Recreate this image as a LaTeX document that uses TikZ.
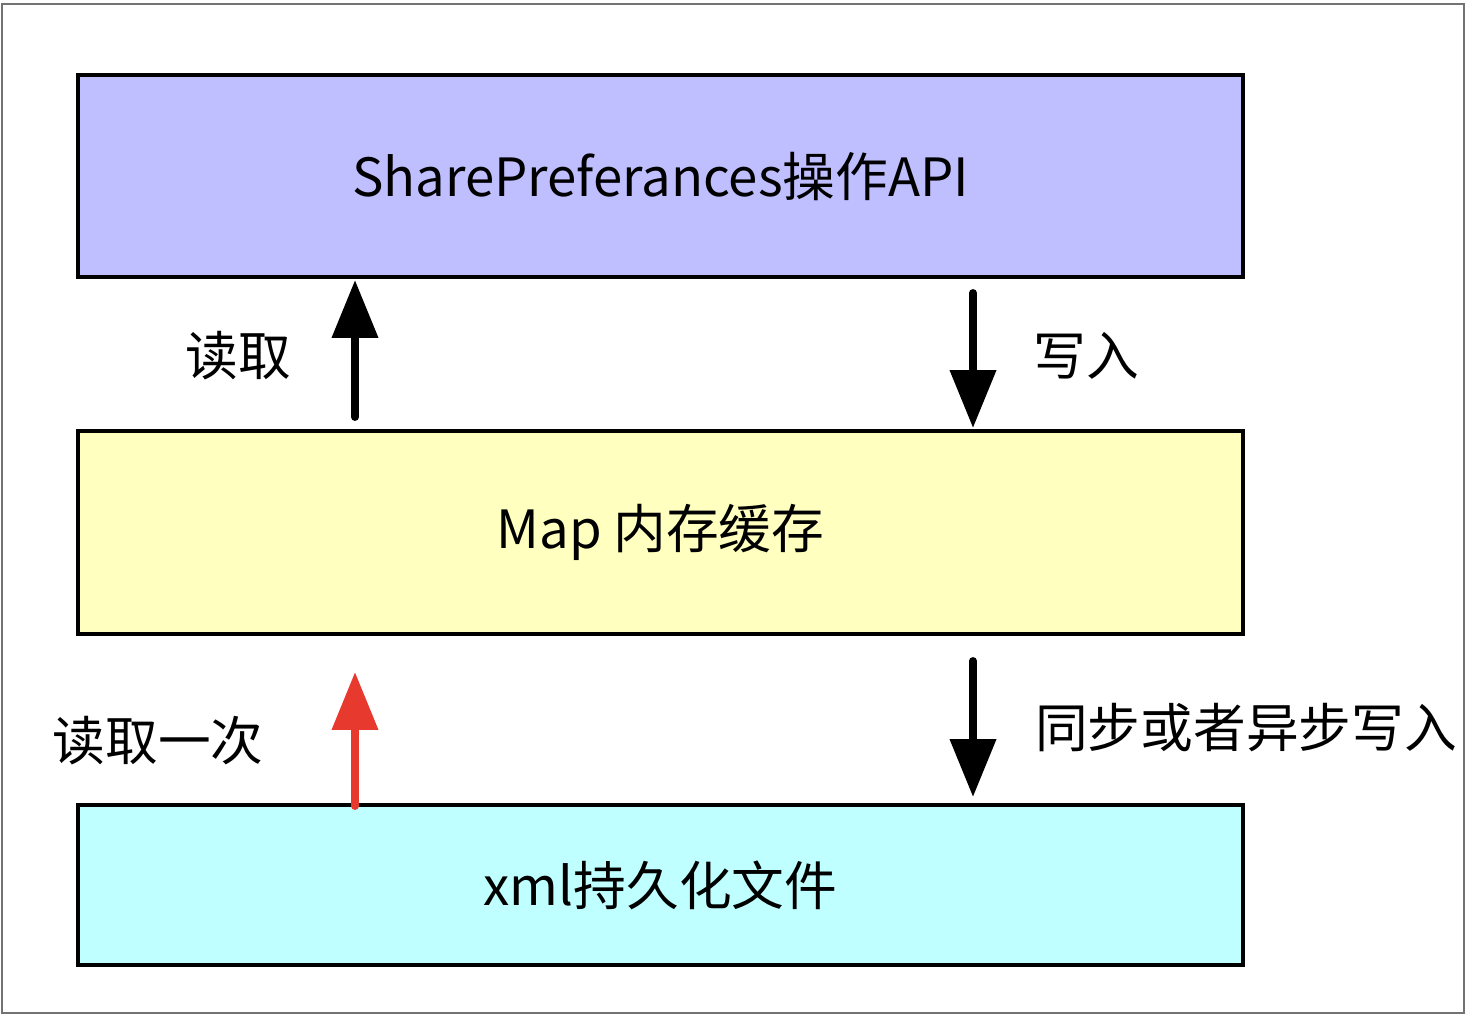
\documentclass[tikz,border=0pt]{standalone}
\usepackage{fontspec}
\setmainfont{Noto Sans CJK SC}
\usetikzlibrary{arrows.meta}
\definecolor{apiblue}{HTML}{BFBFFF}
\definecolor{mapyellow}{HTML}{FFFFBF}
\definecolor{xmlcyan}{HTML}{BFFFFF}
\definecolor{readred}{HTML}{E8392F}
\tikzset{
  layer/.style={draw=black, line width=2pt, minimum width=23.3cm, font=\fontsize{30}{34}\selectfont},
  flow/.style={line width=4.5pt, line cap=round, -{Triangle[length=33pt,width=25.5pt]}},
  tag/.style={font=\fontsize{30}{34}\selectfont}
}
\begin{document}
\begin{tikzpicture}[x=0.02cm,y=-0.02cm]
       \useasboundingbox (0,0) rectangle (1484,1017);
       \draw[color=black!55, line width=1pt] (2,4) rectangle (1464,1013);
       \node [layer, fill=apiblue, minimum height=4.04cm] (api) at (660.5,176) {SharePreferances操作API};
       \node [layer, fill=mapyellow, minimum height=4.06cm] (map) at (660.5,532.5) {Map 内存缓存};
       \node [layer, fill=xmlcyan, minimum height=3.2cm] (xml) at (660.5,885) {xml持久化文件};
       % arrow ends
       \coordinate (rdfrom) at (355,417);
       \coordinate (rdto) at (355,280);
       \coordinate (wrfrom) at (973,293);
       \coordinate (wrto) at (973,428);
       \coordinate (oncefrom) at (355,806);
       \coordinate (onceto) at (355,672);
       \coordinate (syncfrom) at (973,661);
       \coordinate (syncto) at (973,797);
       \draw[flow] (rdfrom) -- (rdto);
       \draw[flow] (wrfrom) -- (wrto);
       \draw[flow, color=readred] (oncefrom) -- (onceto);
       \draw[flow] (syncfrom) -- (syncto);
       \node [tag] (rd) at (238,356) {读取};
       \node [tag] (wr) at (1086,356) {写入};
       \node [tag] (once) at (158,741) {读取一次};
       \node [tag] (sync) at (1246,728) {同步或者异步写入};
     \end{tikzpicture}
\end{document}
